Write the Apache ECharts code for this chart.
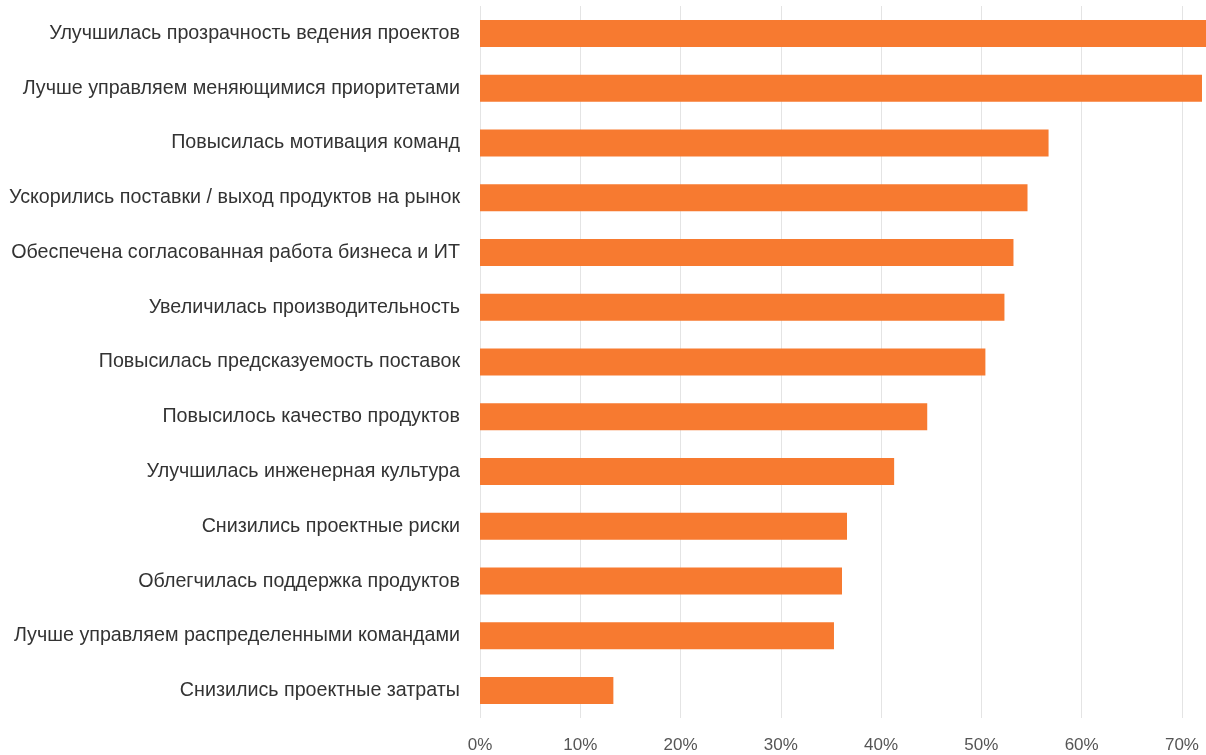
<!DOCTYPE html>
<html>
<head>
<meta charset="utf-8">
<script src="https://cdn.jsdelivr.net/npm/echarts@6/dist/echarts.min.js"></script>
<style>
html,body{margin:0;padding:0;background:#fff;overflow:hidden;}
#main{width:1206px;height:755px;}
</style>
</head>
<body>
<div id="main"></div>
<script>
const categories = [
  "Улучшилась прозрачность ведения проектов",
  "Лучше управляем меняющимися приоритетами",
  "Повысилась мотивация команд",
  "Ускорились поставки / выход продуктов на рынок",
  "Обеспечена согласованная работа бизнеса и ИТ",
  "Увеличилась производительность",
  "Повысилась предсказуемость поставок",
  "Повысилось качество продуктов",
  "Улучшилась инженерная культура",
  "Снизились проектные риски",
  "Облегчилась поддержка продуктов",
  "Лучше управляем распределенными командами",
  "Снизились проектные затраты"
];
const values = [73.5, 72.0, 56.7, 54.6, 53.2, 52.3, 50.4, 44.6, 41.3, 36.6, 36.1, 35.3, 13.3];
const xTicks = [0, 10, 20, 30, 40, 50, 60, 70];

const chart = echarts.init(document.getElementById('main'));
chart.setOption({
  animation: false,
  grid: {left: 480, right: 0, top: 6, bottom: 37, containLabel: false},
  xAxis: {
    type: 'value', min: 0, max: 72.4, interval: 10,
    axisLine: {show: false}, axisTick: {show: false},
    splitLine: {show: false},
    axisLabel: {
      color: '#555', fontSize: 17, fontFamily: 'Liberation Sans, Arial, sans-serif', margin: 19,
      showMaxLabel: false,
      formatter: function (v) { return xTicks.indexOf(Math.round(v*10)/10) >= 0 ? v + '%' : ''; }
    }
  },
  yAxis: {
    type: 'category', data: categories, inverse: true,
    axisLine: {show: false}, axisTick: {show: false},
    axisLabel: {color: '#333', fontSize: 19.7, fontFamily: 'Liberation Sans, Arial, sans-serif', margin: 20}
  },
  series: [{
    type: 'bar', data: [], z: 0, silent: true,
    markLine: {
      silent: true, symbol: 'none', label: {show: false}, z: 0, zlevel: 0,
      lineStyle: {color: '#e4e4e4', width: 1, type: 'solid'},
      data: xTicks.map(function (t) { return {xAxis: t}; })
    }
  }, {
    type: 'bar', data: values, barWidth: 27, clip: true, z: 10, barGap: '-100%',
    itemStyle: {color: '#F77A30'}
  }]
});
</script>
</body>
</html>
